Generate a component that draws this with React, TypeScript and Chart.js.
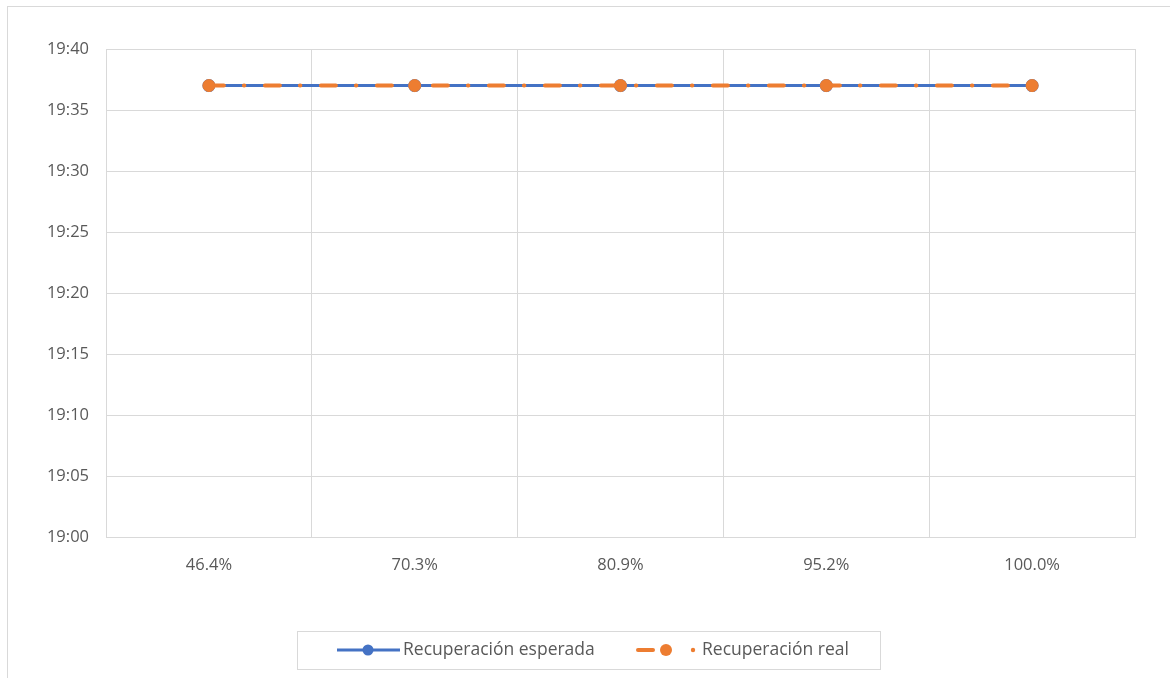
import React, { useEffect, useRef } from "react";
import { Chart, registerables } from "chart.js";

Chart.register(...registerables);

const categories = ["46.4%", "70.3%", "80.9%", "95.2%", "100.0%"];
// minutes after midnight (19:37)
const esperada = [1177, 1177, 1177, 1177, 1177];
const real = [1177, 1177, 1177, 1177, 1177];
const yMin = 1140;
const yMax = 1180;
const yStep = 5;
const seriesNames = ["Recuperación esperada", "Recuperación real"];

const BLUE = "#4472C4";
const ORANGE = "#ED7D31";
const GRID = "#d9d9d9";
const TEXT = "#595959";
const FONT = "'Open Sans', 'Liberation Sans', sans-serif";

const fmt = (v: number) => {
  const h = Math.floor(v / 60);
  const m = Math.round(v - h * 60);
  return `${h}:${m.toString().padStart(2, "0")}`;
};

const framePlugin = {
  id: "frameLegend",
  beforeDraw(chart: any) {
    const ctx = chart.ctx;
    ctx.save();
    ctx.fillStyle = "#ffffff";
    ctx.fillRect(0, 0, chart.width, chart.height);
    ctx.strokeStyle = GRID;
    ctx.lineWidth = 1;
    ctx.strokeRect(7.5, 6.5, 1300, 800);
    ctx.restore();
  },
  afterDraw(chart: any) {
    const ctx = chart.ctx;
    ctx.save();
    ctx.strokeStyle = GRID;
    ctx.lineWidth = 1;
    ctx.strokeRect(297.5, 631.5, 583, 38);
    const cy = 650;
    ctx.strokeStyle = BLUE;
    ctx.lineWidth = 3;
    ctx.lineCap = "butt";
    ctx.beginPath();
    ctx.moveTo(337, cy);
    ctx.lineTo(400, cy);
    ctx.stroke();
    ctx.fillStyle = BLUE;
    ctx.beginPath();
    ctx.arc(368, cy, 5.5, 0, Math.PI * 2);
    ctx.fill();
    ctx.fillStyle = TEXT;
    ctx.font = `17.5px ${FONT}`;
    ctx.textBaseline = "middle";
    ctx.textAlign = "left";
    ctx.fillText(seriesNames[0], 403, cy);
    ctx.strokeStyle = ORANGE;
    ctx.lineWidth = 4;
    ctx.lineCap = "round";
    ctx.beginPath();
    ctx.moveTo(638, cy);
    ctx.lineTo(653, cy);
    ctx.stroke();
    ctx.fillStyle = ORANGE;
    ctx.beginPath();
    ctx.arc(666, cy, 6, 0, Math.PI * 2);
    ctx.fill();
    ctx.beginPath();
    ctx.arc(693, cy, 2.2, 0, Math.PI * 2);
    ctx.fill();
    ctx.fillStyle = TEXT;
    ctx.fillText(seriesNames[1], 702, cy);
    ctx.restore();
  },
};

export default function App() {
  const ref = useRef<HTMLCanvasElement | null>(null);
  useEffect(() => {
    if (!ref.current) return;
    const chart = new Chart(ref.current, {
      type: "line",
      data: {
        labels: categories,
        datasets: [
          {
            label: seriesNames[0],
            data: esperada,
            borderColor: BLUE,
            backgroundColor: BLUE,
            borderWidth: 3,
            pointRadius: 5,
            pointBackgroundColor: BLUE,
            pointBorderColor: BLUE,
            order: 2,
          },
          {
            label: seriesNames[1],
            data: real,
            borderColor: ORANGE,
            backgroundColor: ORANGE,
            borderWidth: 4,
            borderDash: [15, 20, 0.5, 20.5],
            borderCapStyle: "round",
            pointRadius: 6,
            pointBackgroundColor: ORANGE,
            pointBorderColor: ORANGE,
            pointBorderWidth: 1,
            order: 1,
          },
        ],
      },
      options: {
        animation: false,
        responsive: false,
        maintainAspectRatio: false,
        layout: { padding: { left: 0, top: 49, right: 35, bottom: 0 } },
        plugins: { legend: { display: false }, tooltip: { enabled: false } },
        scales: {
          x: {
            offset: true,
            grid: { offset: true, color: GRID, drawTicks: false },
            border: { color: GRID },
            ticks: { color: TEXT, font: { family: FONT, size: 16.5 }, padding: 18, maxRotation: 0 },
            afterFit: (s: any) => {
              s.height = 141;
            },
          },
          y: {
            min: yMin,
            max: yMax,
            grid: { color: GRID, drawTicks: false },
            border: { color: GRID },
            ticks: {
              stepSize: yStep,
              color: TEXT,
              font: { family: FONT, size: 16.5 },
              padding: 17,
              callback: (v: any) => fmt(Number(v)),
            },
            afterFit: (s: any) => {
              s.width = 106;
            },
          },
        },
      },
      plugins: [framePlugin],
    });
    return () => chart.destroy();
  }, []);
  return (
    <div style={{ position: "fixed", left: 0, top: 0, width: 1170, height: 678 }}>
      <canvas ref={ref} width={1170} height={678} style={{ width: 1170, height: 678, display: "block" }} />
    </div>
  );
}
